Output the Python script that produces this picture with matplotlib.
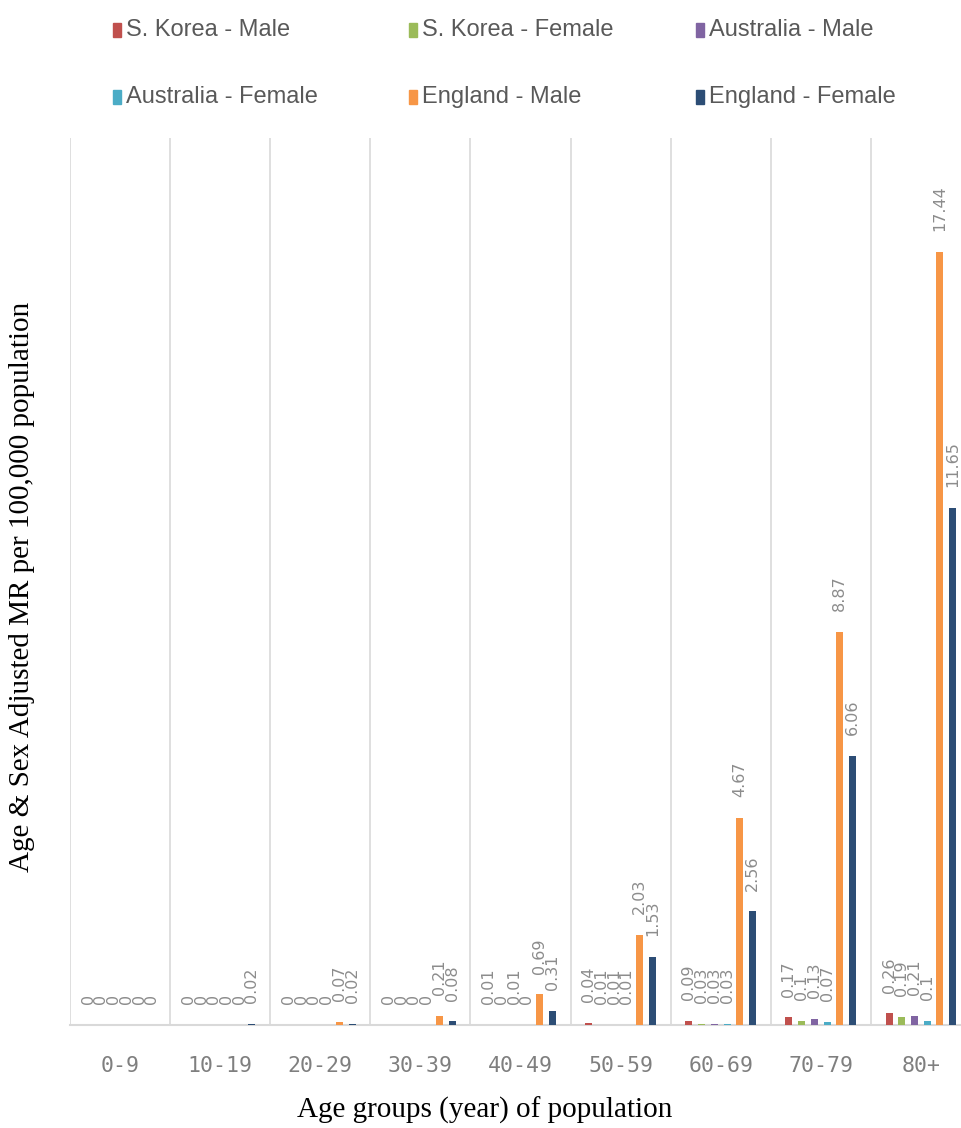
import matplotlib
matplotlib.use("Agg")
import matplotlib.pyplot as plt
from matplotlib.patches import Rectangle
import numpy as np

# Age groups and series
age_groups = ["0-9", "10-19", "20-29", "30-39", "40-49", "50-59", "60-69", "70-79", "80+"]
series_names = ["S. Korea - Male", "S. Korea - Female", "Australia - Male",
                "Australia - Female", "England - Male", "England - Female"]
series_colors = ["#C0504D", "#9BBB59", "#8064A2", "#4BACC6", "#F79646", "#2C4D75"]

korea_male = [0, 0, 0, 0, 0.01, 0.04, 0.09, 0.17, 0.26]
korea_female = [0, 0, 0, 0, 0, 0.01, 0.03, 0.1, 0.19]
australia_male = [0, 0, 0, 0, 0.01, 0.01, 0.03, 0.13, 0.21]
australia_female = [0, 0, 0, 0, 0, 0.01, 0.03, 0.07, 0.1]
england_male = [0, 0, 0.07, 0.21, 0.69, 2.03, 4.67, 8.87, 17.44]
england_female = [0, 0.02, 0.02, 0.08, 0.31, 1.53, 2.56, 6.06, 11.65]

all_series = [korea_male, korea_female, australia_male,
              australia_female, england_male, england_female]

W, H = 961, 1128
fig = plt.figure(figsize=(W / 100, H / 100), dpi=100)

# axes placed in pixel terms
left_px, right_px, top_px, bottom_px = 70, 961, 138, 1025
ax = fig.add_axes([left_px / W, 1 - bottom_px / H,
                   (right_px - left_px) / W, (bottom_px - top_px) / H])

step = 0.127
bar_w = 0.07
x = np.arange(len(age_groups))
label_color = "#8C8C8C"

for i, (vals, color) in enumerate(zip(all_series, series_colors)):
    xs = x + (i - 2.5) * step
    ax.bar(xs, vals, width=bar_w, color=color, zorder=3)
    for xi, v in zip(xs, vals):
        ax.annotate(f"{v:g}", xy=(xi, v), xytext=(0, 15), textcoords="offset points",
                    rotation=90, ha="center", va="bottom", fontsize=11.5,
                    color=label_color, family="DejaVu Sans", zorder=4)

ax.set_xlim(-0.5, -0.5 + (right_px - left_px) / 100.1)
ax.set_ylim(0, 20)

# vertical separators between age groups
for b in np.arange(-0.5, len(age_groups) - 0.5, 1.0):
    ax.axvline(b, color="#D9D9D9", lw=1.2, zorder=1)

for s in ["top", "right", "left"]:
    ax.spines[s].set_visible(False)
ax.spines["bottom"].set_color("#D9D9D9")
ax.spines["bottom"].set_linewidth(1.5)
ax.set_yticks([])
ax.set_xticks(x)
ax.set_xticklabels(age_groups, family="DejaVu Sans Mono", fontsize=15.5, color="#7F7F7F")
ax.tick_params(axis="x", length=0, pad=22)

ax.set_xlabel("Age groups (year) of population", family="Liberation Serif",
              fontsize=21, color="black")
ax.xaxis.set_label_coords((485 - left_px) / (right_px - left_px), -(1110 - bottom_px) / (bottom_px - top_px))
ax.xaxis.label.set_va("center")
fig.text(22 / W, 1 - 587 / H, "Age & Sex Adjusted MR per 100,000 population",
         rotation=90, ha="center", va="center", family="Liberation Serif",
         fontsize=21, color="black")

# legend, two rows of three
legend_cols = [113, 409, 696]
legend_rows = [30, 97]
for k, (name, color) in enumerate(zip(series_names, series_colors)):
    cx = legend_cols[k % 3]
    cy = legend_rows[k // 3]
    fig.patches.append(Rectangle((cx / W, 1 - (cy + 7) / H), 8 / W, 14 / H,
                                 transform=fig.transFigure, color=color))
    fig.text((cx + 13) / W, 1 - cy / H, name, ha="left", va="center",
             family="Liberation Sans", fontsize=17, color="#595959")

fig.savefig("out.png", dpi=100)
